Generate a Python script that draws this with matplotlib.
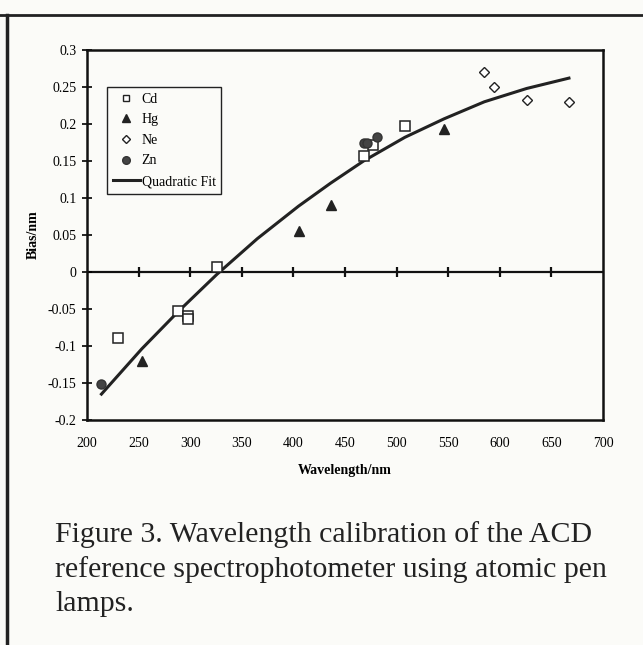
import matplotlib
matplotlib.use("Agg")
import matplotlib.pyplot as plt
from matplotlib.lines import Line2D
import numpy as np

# ---- data ----
cd_x = [230, 288, 298, 298, 326, 468, 477, 508]
cd_y = [-0.089, -0.053, -0.059, -0.064, 0.007, 0.157, 0.172, 0.197]
hg_x = [253, 405, 436, 546]
hg_y = [-0.120, 0.055, 0.090, 0.193]
ne_x = [585, 594, 626, 667]
ne_y = [0.270, 0.250, 0.233, 0.230]
zn_x = [214, 468, 471, 481]
zn_y = [-0.151, 0.175, 0.175, 0.183]
fit_x = [214, 253, 288, 326, 365, 405, 436, 468, 508, 546, 585, 626, 667]
fit_y = [-0.165, -0.104, -0.054, -0.003, 0.045, 0.089, 0.120, 0.150, 0.182,
         0.207, 0.230, 0.248, 0.262]
x_ticks = [200, 250, 300, 350, 400, 450, 500, 550, 600, 650, 700]
y_ticks = [0.3, 0.25, 0.2, 0.15, 0.1, 0.05, 0, -0.05, -0.1, -0.15, -0.2]
y_labels = ["0.3", "0.25", "0.2", "0.15", "0.1", "0.05", "0", "-0.05", "-0.1", "-0.15", "-0.2"]
caption = ("Figure 3. Wavelength calibration of the ACD\n"
           "reference spectrophotometer using atomic pen\n"
           "lamps.")

plt.rcParams['font.family'] = ['Liberation Serif', 'DejaVu Serif']
bg = '#fbfbf8'
fig = plt.figure(figsize=(6.43, 6.45), dpi=100, facecolor=bg)
ax = fig.add_axes([87/643, 1-420/645, 516/643, 370/645], facecolor=bg)

ax.plot(fit_x, fit_y, color='#222222', lw=2.2, zorder=2, label='Quadratic Fit')
ax.plot(cd_x, cd_y, ls='none', marker='s', ms=6.5, mfc='white', mec='#222222', mew=1.1, zorder=3, label='Cd')
ax.plot(hg_x, hg_y, ls='none', marker='^', ms=6.5, mfc='#222222', mec='#222222', zorder=3, label='Hg')
ax.plot(ne_x, ne_y, ls='none', marker='D', ms=5, mfc='white', mec='#222222', mew=1.0, zorder=3, label='Ne')
ax.plot(zn_x, zn_y, ls='none', marker='o', ms=6.5, mfc='#444444', mec='#333333', zorder=3, label='Zn')

ax.set_xlim(200, 700)
ax.set_ylim(-0.2, 0.3)

# zero line with crossing ticks
ax.axhline(0, color='#111111', lw=1.6, zorder=1)
ax.vlines(x_ticks[1:-1], -0.007, 0.007, color='#111111', lw=1.6, zorder=1)

ax.set_xticks(x_ticks)
ax.set_xticklabels([str(v) for v in x_ticks])
ax.tick_params(axis='x', length=0, pad=12, labelsize=10)
ax.set_yticks(y_ticks)
ax.set_yticklabels(y_labels)
ax.tick_params(axis='y', direction='inout', length=7, width=1.2, pad=4, labelsize=10)

for s in ax.spines.values():
    s.set_linewidth(1.8)
    s.set_color('#111111')

ax.set_xlabel('Wavelength/nm', fontweight='bold', fontsize=10, labelpad=10)
ax.set_ylabel('Bias/nm', fontweight='bold', fontsize=10, labelpad=6)

handles = [
    Line2D([], [], ls='none', marker='s', ms=5, mfc='white', mec='#222222', mew=1.0),
    Line2D([], [], ls='none', marker='^', ms=6, mfc='#222222', mec='#222222'),
    Line2D([], [], ls='none', marker='D', ms=4, mfc='white', mec='#222222', mew=1.0),
    Line2D([], [], ls='none', marker='o', ms=5.5, mfc='#444444', mec='#333333'),
    Line2D([], [], color='#222222', lw=2.2),
]
leg = ax.legend(handles, ['Cd', 'Hg', 'Ne', 'Zn', 'Quadratic Fit'],
                loc='upper left', bbox_to_anchor=(20/516, 1-37/370),
                fontsize=10, frameon=True, fancybox=False, edgecolor='#222222',
                facecolor=bg, framealpha=1, handlelength=2.0, handletextpad=0.1,
                labelspacing=0.55, borderpad=0.4, borderaxespad=0)
leg.get_frame().set_linewidth(1.0)

# page border lines
fig.add_artist(Line2D([0, 1], [1-15/645, 1-15/645], color='#222222', lw=2.0, transform=fig.transFigure))
fig.add_artist(Line2D([7/643, 7/643], [0, 1-15/645], color='#222222', lw=2.5, transform=fig.transFigure))

fig.text(55/643, 1-521/645, caption, fontsize=21.5, va='top', ha='left',
         color='#222222', linespacing=1.4)

fig.savefig('out.png', dpi=100, facecolor=bg)
